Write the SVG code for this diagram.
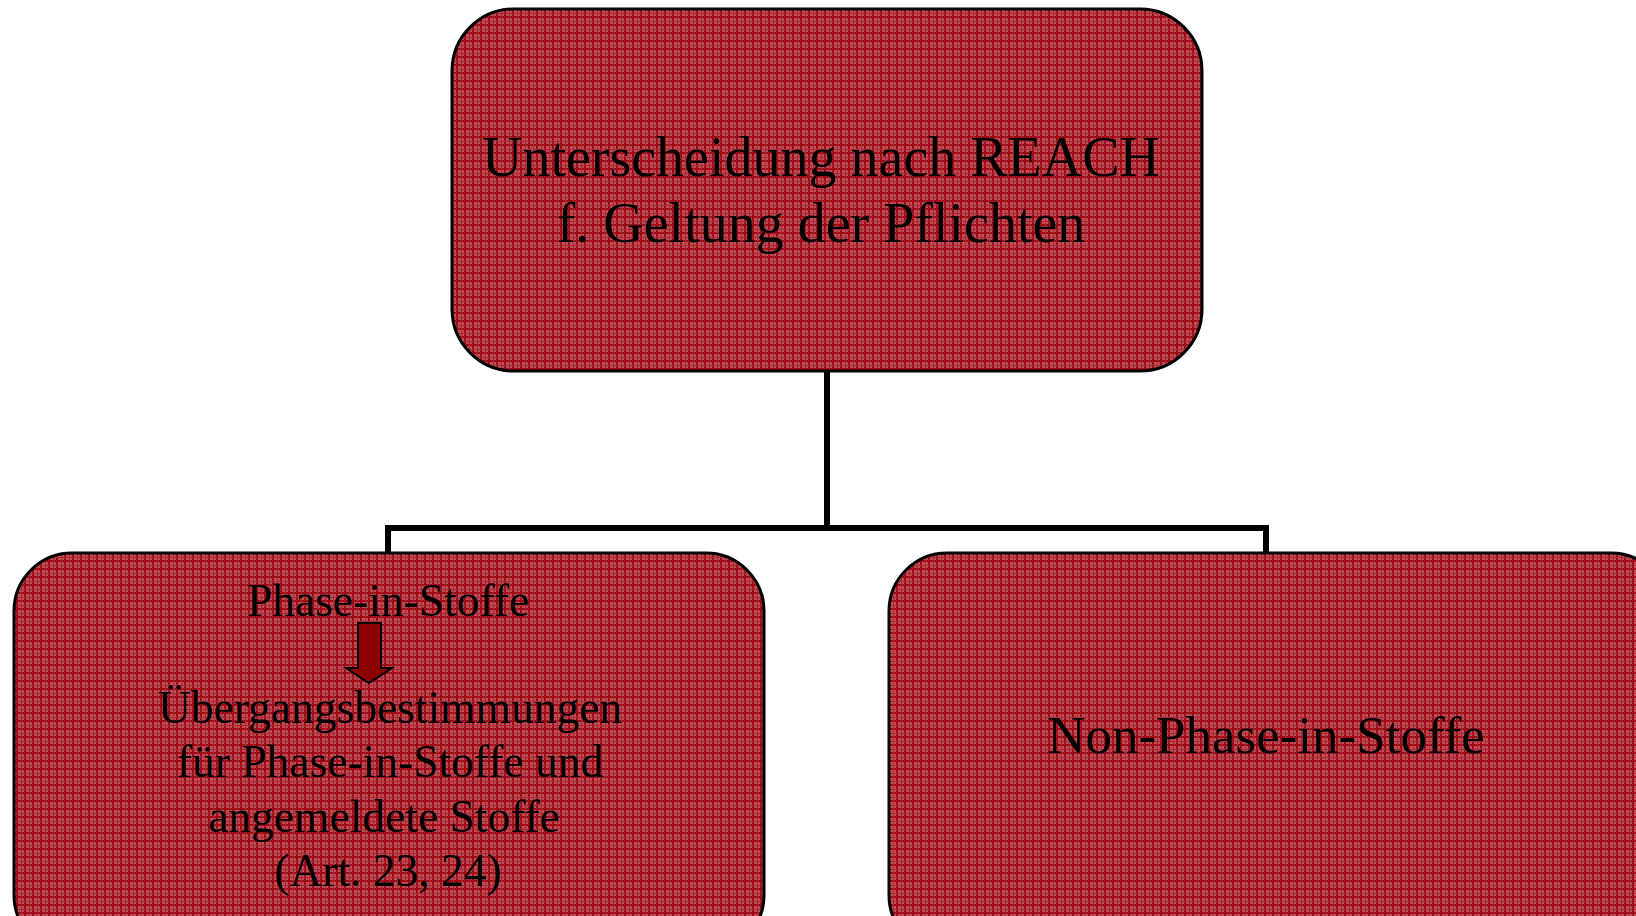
<svg xmlns="http://www.w3.org/2000/svg" width="1636" height="916" viewBox="0 0 1636 916">
<defs>
<pattern id="plaid" width="8" height="8" patternUnits="userSpaceOnUse">
<rect width="8" height="8" fill="#bc5058"/>
<rect x="0" y="0" width="2" height="8" fill="#a00a16"/>
<rect x="0" y="0" width="8" height="2" fill="#a00a16"/>
<rect x="5" y="0" width="1" height="8" fill="#ae2832"/>
<rect x="0" y="5" width="8" height="1" fill="#ae2832"/>
</pattern>
</defs>
<style>
.box{fill:url(#plaid);stroke:#000;stroke-width:3}
.t{font-family:"Liberation Serif","Times New Roman",serif;fill:#000;text-anchor:middle}
.conn{fill:none;stroke:#000;stroke-width:6}
</style>
<rect width="1636" height="916" fill="#fff"/>
<g id="connectors">
<path class="conn" d="M827 371 V528 M388 528 H1266 M388 525 V553 M1266 525 V553"/>
</g>
<g id="node-top">
<rect class="box" x="452" y="9" width="750" height="362" rx="62"/>
<text class="t" x="821" y="176" font-size="56">Unterscheidung nach REACH</text>
<text class="t" x="821" y="242" font-size="56">f. Geltung der Pflichten</text>
</g>
<g id="node-left">
<rect class="box" x="14" y="553" width="750" height="400" rx="58"/>
<text class="t" x="388" y="616" font-size="45.5">Phase-in-Stoffe</text>
<path d="M358 623 H381 V668 H392 L369 683 L346 668 H358 Z" fill="#8b0000" stroke="#000" stroke-width="2"/>
<text class="t" x="390" y="723" font-size="45.5">Übergangsbestimmungen</text>
<text class="t" x="390" y="777" font-size="45.5">für Phase-in-Stoffe und</text>
<text class="t" x="384" y="832" font-size="45.5">angemeldete Stoffe</text>
<text class="t" x="388" y="886" font-size="45.5">(Art. 23, 24)</text>
</g>
<g id="node-right">
<rect class="box" x="889" y="553" width="780" height="400" rx="58"/>
<text class="t" x="1266" y="753" font-size="53">Non-Phase-in-Stoffe</text>
</g>
</svg>
